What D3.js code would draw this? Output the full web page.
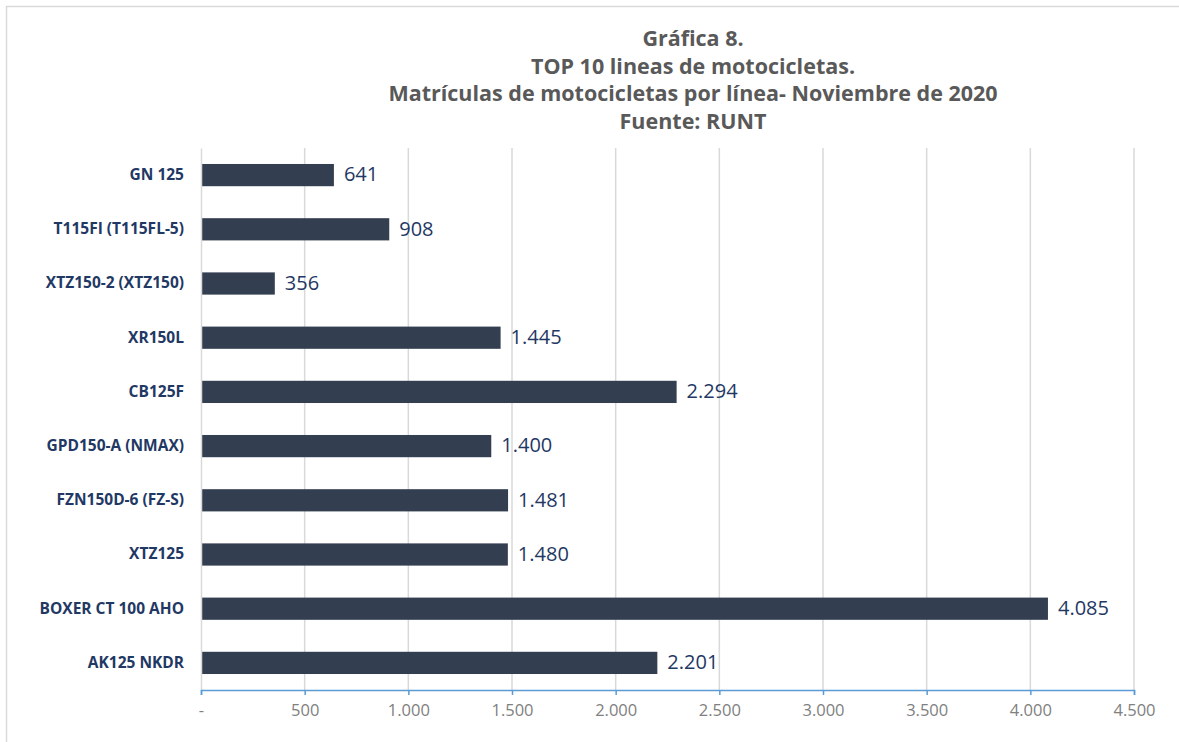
<!DOCTYPE html>
<html><head><meta charset="utf-8">
<script src="https://cdn.jsdelivr.net/npm/d3@7"></script>
<style>
body{margin:0;background:#fff;}
svg{display:block;}
</style></head>
<body>
<svg id="c" width="1179" height="742"></svg>
<script>
const titleLines = ["Gráfica  8.", "TOP 10 lineas de motocicletas.", "Matrículas de motocicletas por línea- Noviembre de 2020", "Fuente: RUNT"];
const categories = ["GN 125","T115FI (T115FL-5)","XTZ150-2 (XTZ150)","XR150L","CB125F","GPD150-A (NMAX)","FZN150D-6 (FZ-S)","XTZ125","BOXER CT 100 AHO","AK125 NKDR"];
const values = [641, 908, 356, 1445, 2294, 1400, 1481, 1480, 4085, 2201];
const tickValues = [0,500,1000,1500,2000,2500,3000,3500,4000,4500];

const svg = d3.select("#c");
const font = "'Open Sans', sans-serif";
const fmt = v => v === 0 ? "-" : d3.format(",")(v).replace(/,/g, ".");

// border
svg.append("rect").attr("x",6.5).attr("y",6.5).attr("width",1200).attr("height",800)
  .attr("fill","none").attr("stroke","#d9d9d9").attr("stroke-width",1.5);

// title
svg.append("g").selectAll("text").data(titleLines).join("text")
  .attr("x",693).attr("y",(d,i)=>46+i*27.5)
  .attr("text-anchor","middle").attr("font-family",font).attr("font-weight","bold")
  .attr("font-size",21.5).attr("fill","#595959").text(d=>d);

const x = d3.scaleLinear().domain([0,4500]).range([201,1134]);
const y = d3.scaleBand().domain(categories).range([148,690]).paddingInner(0.59).paddingOuter(0.295);

// gridlines
svg.append("g").selectAll("line").data(tickValues.slice(1)).join("line")
  .attr("x1",d=>x(d)).attr("x2",d=>x(d)).attr("y1",148).attr("y2",690)
  .attr("stroke","#d9d9d9").attr("stroke-width",1.5);

// bars
svg.append("g").selectAll("rect").data(values).join("rect")
  .attr("x",x(0)).attr("y",(d,i)=>y(categories[i]))
  .attr("width",d=>x(d)-x(0)).attr("height",y.bandwidth())
  .attr("fill","#333f50");

// value labels
svg.append("g").selectAll("text").data(values).join("text")
  .attr("x",d=>x(d)+10).attr("y",(d,i)=>y(categories[i])+y.bandwidth()/2+1)
  .attr("dominant-baseline","middle").attr("font-family",font).attr("font-size",20)
  .attr("fill","#1f3864").text(d=>fmt(d));

// y axis
const yAxis = svg.append("g").attr("transform",`translate(${x(0)},0)`)
  .call(d3.axisLeft(y).tickSize(0).tickPadding(17));
yAxis.select(".domain").attr("stroke","#d9d9d9").attr("stroke-width",1.5);
yAxis.selectAll("text").attr("font-family",font).attr("font-weight","bold")
  .attr("font-size",15.5).attr("fill","#1f3864");

// x axis
const xAxis = svg.append("g").attr("transform","translate(0,690)")
  .call(d3.axisBottom(x).tickValues(tickValues).tickSize(5).tickPadding(9).tickFormat(fmt));
xAxis.select(".domain").attr("stroke","#5b9bd5").attr("stroke-width",1.5);
xAxis.selectAll(".tick line").attr("stroke","#5b9bd5").attr("stroke-width",1.5);
xAxis.selectAll("text").attr("font-family",font).attr("font-size",16.5).attr("fill","#808080");
</script>
</body></html>
